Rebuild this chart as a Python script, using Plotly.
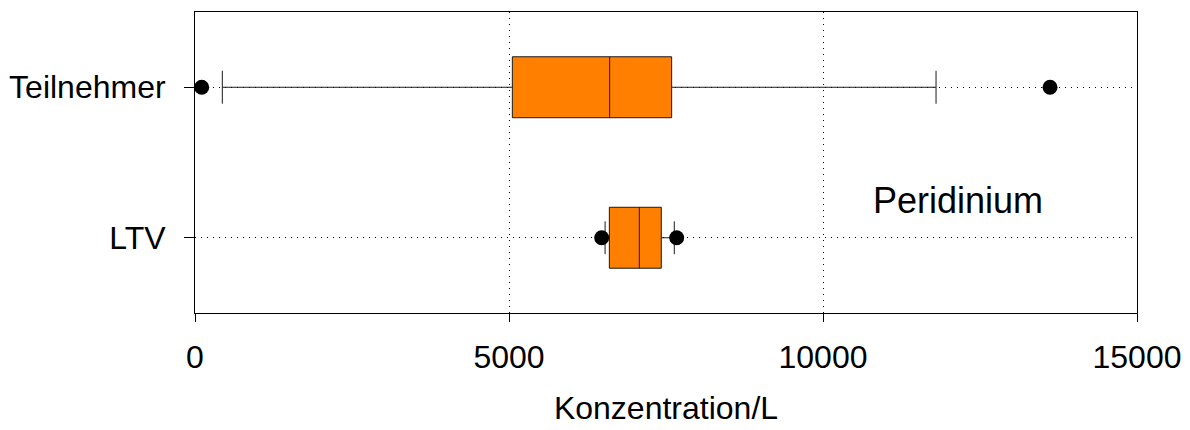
import plotly.graph_objects as go

# Box statistics (cells per litre)
groups = ["Teilnehmer", "LTV"]
lower_fence = [435, 6530]
q1 = [5053, 6598]
median = [6603, 7075]
q3 = [7590, 7425]
upper_fence = [11800, 7632]

# Outlying single values
outlier_group = ["Teilnehmer", "Teilnehmer", "LTV", "LTV"]
outlier_value = [107, 13615, 6476, 7670]

x_ticks = [0, 5000, 10000, 15000]
x_tick_text = ["0", "5000", "10000", "15000"]

FONT = "Liberation Sans, Arial, sans-serif"

fig = go.Figure()

fig.add_trace(go.Box(
    y=groups,
    q1=q1,
    median=median,
    q3=q3,
    lowerfence=lower_fence,
    upperfence=upper_fence,
    orientation="h",
    width=0.405,
    whiskerwidth=0.54,
    fillcolor="#FF8000",
    line=dict(color="#1a1a1a", width=1),
    boxpoints=False,
    showlegend=False,
))

fig.add_trace(go.Scatter(
    x=outlier_value,
    y=outlier_group,
    mode="markers",
    marker=dict(color="black", size=15),
    showlegend=False,
))

fig.add_annotation(
    text="Peridinium",
    x=12150, xref="x",
    y=0.375, yref="paper",
    yanchor="middle",
    showarrow=False,
    font=dict(family=FONT, size=36, color="black"),
)

fig.update_xaxes(
    range=[0, 15000],
    automargin=False,
    tickmode="array",
    tickvals=x_ticks,
    ticktext=x_tick_text,
    ticks="outside",
    ticklen=8,
    tickcolor="black",
    ticklabelstandoff=8,
    tickfont=dict(family=FONT, size=32, color="black"),
    showgrid=True,
    gridcolor="black",
    gridwidth=1,
    griddash="1px,5px",
    zeroline=False,
    showline=True,
    linecolor="black",
    linewidth=1,
    mirror=True,
    title=dict(text="Konzentration/L", standoff=22,
               font=dict(family=FONT, size=32, color="black")),
)

fig.update_yaxes(
    type="category",
    categoryorder="array",
    categoryarray=["LTV", "Teilnehmer"],
    range=[-0.5, 1.5],
    automargin=False,
    ticks="outside",
    ticklen=10,
    tickcolor="black",
    ticklabelstandoff=12,
    tickfont=dict(family=FONT, size=32, color="black"),
    showgrid=True,
    gridcolor="black",
    gridwidth=1,
    griddash="1px,5px",
    zeroline=False,
    showline=True,
    linecolor="black",
    linewidth=1,
    mirror=True,
)

fig.update_layout(
    width=1190,
    height=430,
    margin=dict(l=195, r=53, t=12, b=117),
    paper_bgcolor="white",
    plot_bgcolor="white",
    font=dict(family=FONT, color="black"),
)

fig.write_html("out.html")
